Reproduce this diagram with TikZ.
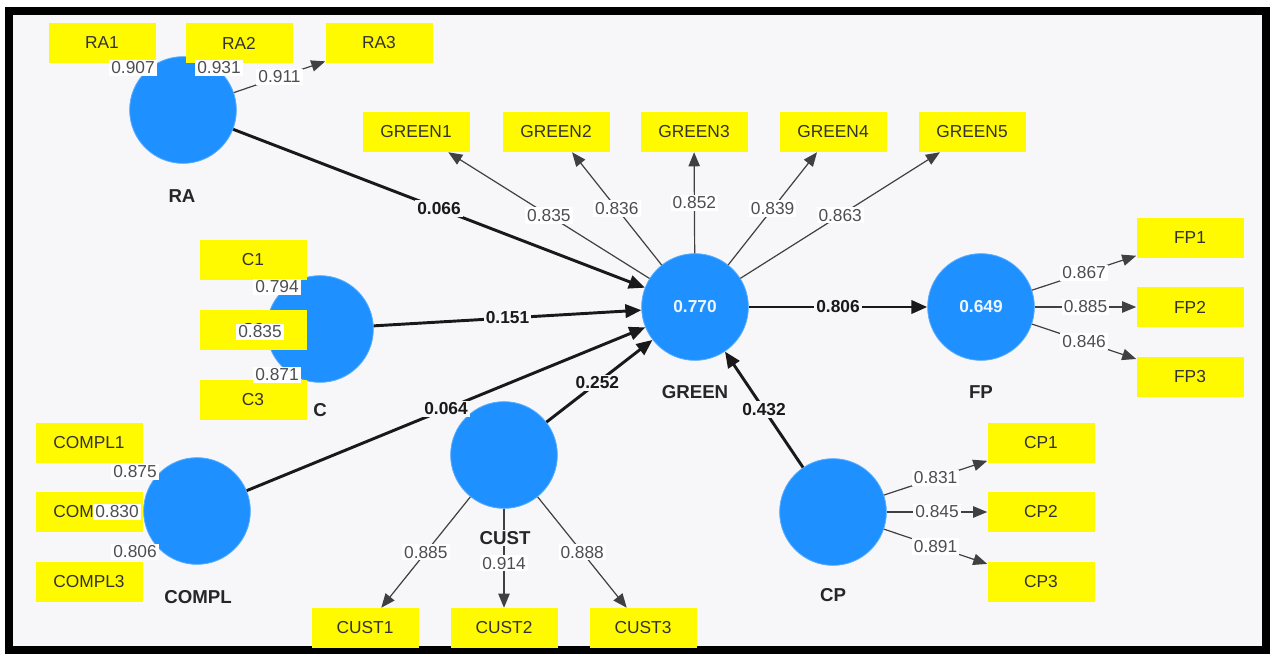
\documentclass[tikz,border=0pt]{standalone}
\usepackage{fontspec}
\setmainfont{Liberation Sans}
\usepackage{tikz}
\usetikzlibrary{arrows.meta}

\definecolor{lvblue}{RGB}{30,144,255}
\definecolor{mvyellow}{RGB}{255,250,0}
\definecolor{panelgray}{RGB}{247,247,249}
\definecolor{loadgray}{RGB}{78,78,82}

\begin{document}
\begin{tikzpicture}[x=0.75pt,y=0.75pt,yscale=-1,xscale=1,
  lv/.style={circle,fill=lvblue,draw=lvblue!75!white,line width=0.6pt,minimum size=80pt,inner sep=0pt,text=white!92!lvblue,font=\fontsize{13}{15}\selectfont\bfseries},
  mv/.style={rectangle,fill=mvyellow,minimum width=80.25pt,minimum height=30pt,inner sep=0pt,text=black!80,font=\fontsize{13}{15}\selectfont},
  lvname/.style={fill=panelgray,inner sep=1pt,text=black!85,font=\fontsize{14}{16}\selectfont\bfseries},
  struct/.style={line width=2.2pt,black!90,-{Triangle[length=12pt,width=10pt]}},
  outer/.style={line width=0.9pt,black!75,-{Triangle[length=10.5pt,width=8.5pt]}},
  coef/.style={fill=panelgray,inner sep=1.5pt,text=black!90,font=\fontsize{13}{15}\selectfont\bfseries},
  wt/.style={fill=white,inner sep=1.5pt,text=loadgray,font=\fontsize{13}{15}\selectfont}]
%uncomment if require: \path (0,658); %set diagram left start at 0, and has height of 658
\useasboundingbox (0,0) rectangle (1272,658);
\fill [white] (0,0) rectangle (1272,658);
%Frame
\draw [line width=6pt,fill=panelgray] (9,11) rectangle (1266,650);

%Latent variables
\node [lv] (RA) at (183,110) {};
\node [lv] (C) at (320,329) {};
\node [lv] (COMPL) at (197,511) {};
\node [lv] (CUST) at (504,455) {};
\node [lv] (GREEN) at (695,307) {0.770};
\node [lv] (FP) at (981,307) {0.649};
\node [lv] (CP) at (833,512) {};

%Indicators
\node [mv] (RA1) at (102,43) {RA1};
\node [mv] (RA2) at (239,43) {RA2};
\node [mv] (RA3) at (379,43) {RA3};
\node [mv] (GREEN1) at (416,132) {GREEN1};
\node [mv] (GREEN2) at (556,132) {GREEN2};
\node [mv] (GREEN3) at (694,132) {GREEN3};
\node [mv] (GREEN4) at (833,132) {GREEN4};
\node [mv] (GREEN5) at (972,132) {GREEN5};
\node [mv] (C1) at (253,260) {C1};
\node [mv] (C2) at (253,330) {C2};
\node [mv] (C3) at (253,400) {C3};
\node [mv] (COMPL1) at (89,443) {COMPL1};
\node [mv] (COMPL2) at (89,512) {COMPL2};
\node [mv] (COMPL3) at (89,582) {COMPL3};
\node [mv] (CUST1) at (365,628) {CUST1};
\node [mv] (CUST2) at (504,628) {CUST2};
\node [mv] (CUST3) at (643,628) {CUST3};
\node [mv] (FP1) at (1190,238) {FP1};
\node [mv] (FP2) at (1190,307) {FP2};
\node [mv] (FP3) at (1190,377) {FP3};
\node [mv] (CP1) at (1041,443) {CP1};
\node [mv] (CP2) at (1041,512) {CP2};
\node [mv] (CP3) at (1041,582) {CP3};

%Inner model
\draw [struct] (RA) -- node [coef] {0.066} (GREEN);
\draw [struct] (C) -- node [coef] {0.151} (GREEN);
\draw [struct] (COMPL) -- node [coef] {0.064} (GREEN);
\draw [struct] (CUST) -- node [coef, pos=0.48] {0.252} (GREEN);
\draw [struct] (CP) -- node [coef] {0.432} (GREEN);
\draw [struct] (GREEN) -- node [coef] {0.806} (FP);

%Outer model
\draw [outer] (RA) -- node [wt] {0.911} (RA3);
\draw [outer] (GREEN) -- node [wt] {0.835} (GREEN1);
\draw [outer] (GREEN) -- node [wt] {0.836} (GREEN2);
\draw [outer] (GREEN) -- node [wt] {0.852} (GREEN3);
\draw [outer] (GREEN) -- node [wt] {0.839} (GREEN4);
\draw [outer] (GREEN) -- node [wt] {0.863} (GREEN5);
\draw [outer] (CUST) -- node [wt] {0.885} (CUST1);
\draw [outer] (CUST) -- node [wt, pos=0.55] {0.914} (CUST2);
\draw [outer] (CUST) -- node [wt] {0.888} (CUST3);
\draw [outer] (FP) -- node [wt] {0.867} (FP1);
\draw [outer] (FP) -- node [wt] {0.885} (FP2);
\draw [outer] (FP) -- node [wt] {0.846} (FP3);
\draw [outer] (CP) -- node [wt] {0.831} (CP1);
\draw [outer] (CP) -- node [wt] {0.845} (CP2);
\draw [outer] (CP) -- node [wt] {0.891} (CP3);

% Text Node
\node [wt] (wRA1) at (133,68) {0.907};
\node [wt] (wRA2) at (219,68) {0.931};
\node [wt] (wC1) at (277,287) {0.794};
\node [wt] (wC2) at (260,332) {0.835};
\node [wt] (wC3) at (277,375) {0.871};
\node [wt] (wCOMPL1) at (135,472) {0.875};
\node [wt] (wCOMPL2) at (117,512) {0.830};
\node [wt] (wCOMPL3) at (135,552) {0.806};

% Text Node
\node [lvname] (nRA) at (182,196) {RA};
\node [lvname] (nC) at (320,410) {C};
\node [lvname] (nCOMPL) at (198,597) {COMPL};
\node [lvname] (nCUST) at (505,538) {CUST};
\node [lvname] (nGREEN) at (695,392) {GREEN};
\node [lvname] (nFP) at (981,392) {FP};
\node [lvname] (nCP) at (833,595) {CP};
\end{tikzpicture}
\end{document}
